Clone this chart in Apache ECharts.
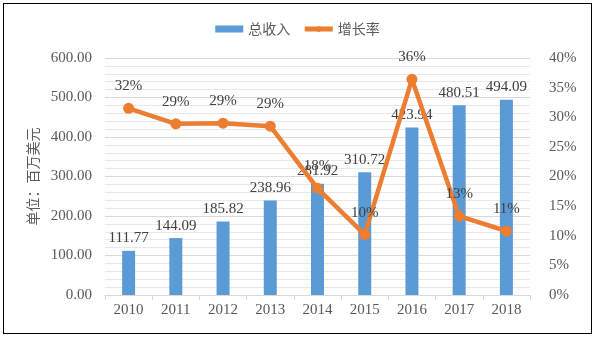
<!DOCTYPE html>
<html><head><meta charset="utf-8">
<script src="https://cdn.jsdelivr.net/npm/echarts@6/dist/echarts.min.js"></script>
<style>
html,body{margin:0;padding:0;background:#fff;}
#frame{position:absolute;left:3px;top:3px;width:587px;height:329px;border:1px solid #000;}
#c{position:absolute;left:0;top:0;width:595px;height:337px;}
</style></head>
<body><div id="frame"></div><div id="c"></div>
<script>
const years = ['2010','2011','2012','2013','2014','2015','2016','2017','2018'];
const revenue = [111.77,144.09,185.82,238.96,281.92,310.72,423.94,480.51,494.09];
const growth = [0.315,0.289,0.290,0.285,0.180,0.102,0.364,0.133,0.108];
const growthLabels = ['32%','29%','29%','29%','18%','10%','36%','13%','11%'];
const leftTicks = [0,100,200,300,400,500,600];
const rightTicks = [0,0.05,0.1,0.15,0.2,0.25,0.3,0.35,0.4];

const serif = '"Liberation Serif","Times New Roman",serif';
const cjk = '"Noto Sans CJK SC","Noto Sans",sans-serif';
const chart = echarts.init(document.getElementById('c'), null, {renderer:'canvas'});
chart.setOption({
  animation:false,
  backgroundColor:'transparent',
  legend:{
    top:17, left:'center', itemGap:12,
    itemWidth:28, itemHeight:7,
    textStyle:{fontFamily:cjk, fontSize:14, color:'#595959'},
    data:[{name:'总收入', icon:'rect'},
          {name:'增长率', lineStyle:{width:5}, itemStyle:{color:'#ED7D31'}}]
  },
  grid:{left:105, right:65, top:58, bottom:42},
  xAxis:{
    type:'category', data:years,
    axisLine:{lineStyle:{color:'#D9D9D9'}},
    axisTick:{show:true, length:5, lineStyle:{color:'#D9D9D9'}},
    axisLabel:{fontFamily:serif, fontSize:15, color:'#595959', margin:8}
  },
  yAxis:[{
    type:'value', min:leftTicks[0], max:leftTicks[leftTicks.length-1], interval:100,
    name:'单位：百万美元', nameLocation:'middle', nameGap:62, nameRotate:90,
    nameTextStyle:{fontFamily:cjk, fontSize:14, color:'#595959'},
    axisLine:{show:false}, axisTick:{show:false},
    axisLabel:{fontFamily:serif, fontSize:15, color:'#595959', margin:13,
      formatter:v=>v.toFixed(2)},
    splitLine:{lineStyle:{color:'#D9D9D9'}},
    minorTick:{show:false, splitNumber:5},
    minorSplitLine:{show:true, lineStyle:{color:'#E8E8E8'}}
  },{
    type:'value', min:rightTicks[0], max:rightTicks[rightTicks.length-1], interval:0.05,
    axisLine:{show:false}, axisTick:{show:false},
    axisLabel:{fontFamily:serif, fontSize:15, color:'#595959', margin:19,
      formatter:v=>Math.round(v*100)+'%'},
    splitLine:{show:false}
  }],
  series:[{
    name:'总收入', type:'bar', data:revenue, barWidth:13,
    itemStyle:{color:'#5B9BD5'},
    label:{show:true, position:'top', distance:5, fontFamily:serif, fontSize:15, color:'#404040',
      formatter:p=>p.value.toFixed(2)}
  },{
    name:'增长率', type:'line', yAxisIndex:1, data:growth,
    lineStyle:{color:'#ED7D31', width:4.5},
    itemStyle:{color:'#ED7D31'},
    symbol:'circle', symbolSize:11,
    label:{show:true, position:'top', distance:9, fontFamily:serif, fontSize:15, color:'#404040',
      formatter:p=>growthLabels[p.dataIndex]}
  }]
});
</script></body></html>
